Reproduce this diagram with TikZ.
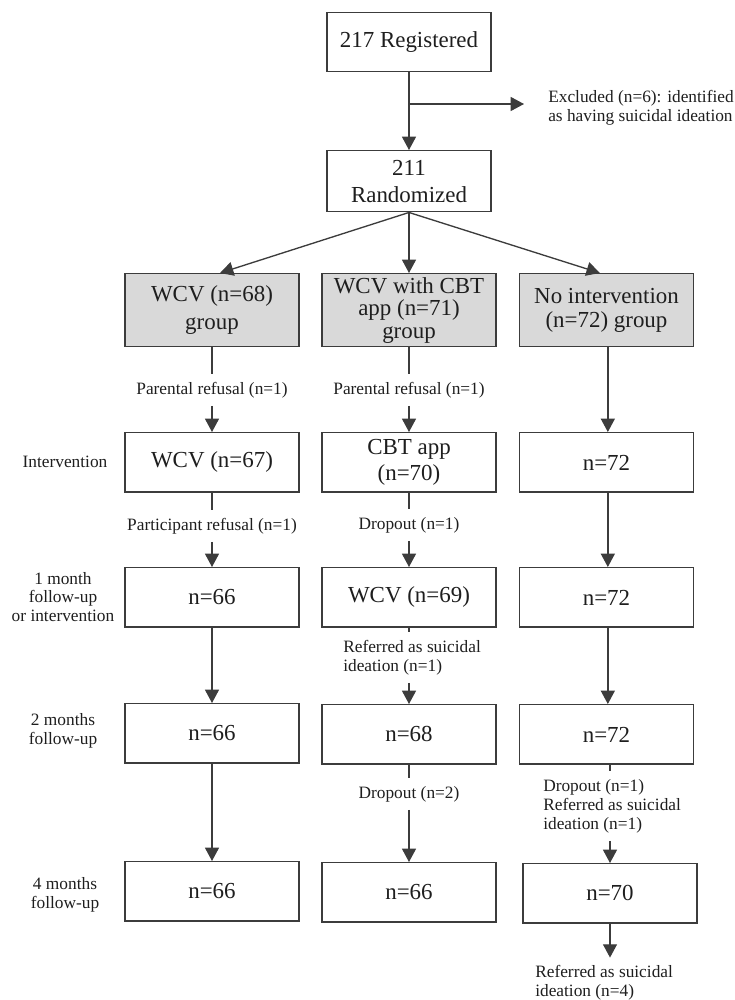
\documentclass[tikz,border=0pt]{standalone}
\usepackage{fontspec}
\setmainfont{Liberation Serif}
\usetikzlibrary{arrows.meta}
\definecolor{boxgray}{HTML}{D9D9D9}
\definecolor{edge}{HTML}{3C3C3C}
\definecolor{ink}{HTML}{1E1E1E}
\begin{document}
\begin{tikzpicture}[x=0.75pt,y=-0.75pt,
  box/.style={draw=edge, line width=1.1pt, fill=white, minimum width=130.5pt,
    minimum height=44.5pt, align=center, inner sep=2pt, anchor=north, text=ink,
    font=\fontsize{17.2}{19}\selectfont},
  topbox/.style={box, minimum width=123pt, minimum height=44.25pt},
  gbox/.style={box, fill=boxgray, minimum height=54.75pt},
  lbl/.style={font=\fontsize{13}{14.2}\selectfont, align=center, inner xsep=0pt,
    inner ysep=0pt, outer ysep=6pt, text=ink},
  lbll/.style={lbl, align=left, anchor=west},
  ln/.style={line width=1pt, draw=edge},
  arr/.style={ln, -{Triangle[length=10pt,width=10.5pt]}}
]
\useasboundingbox (0,0) rectangle (735,1000);

% top
\node[topbox] (reg) at (409,12) {217 Registered};
\node[topbox, minimum height=45.75pt, font=\fontsize{17.2}{20}\selectfont] (ran) at (409,150) {211\\Randomized};
\coordinate (j) at (409,104);
\node[lbll, outer ysep=0pt] (excl) at (548,108) {Excluded (n=6): identified\\as having suicidal ideation};
\draw[arr] (reg.south) -- (ran.north);
\draw[arr, shorten >=18pt] (j) -- (j -| excl.west);

% groups
\node[gbox, font=\fontsize{17.2}{21}\selectfont] (gl) at (212,273) {WCV (n=68)\\group};
\node[gbox, font=\fontsize{17.2}{17}\selectfont] (gm) at (409,273) {WCV with CBT\\app (n=71)\\group};
\node[gbox, font=\fontsize{17.2}{18}\selectfont] (gr) at (606.5,273) {No intervention\\(n=72) group};
\draw[arr] (ran.south) -- ([xshift=6pt]gl.north);
\draw[arr] (ran.south) -- (gm.north);
\draw[arr] (ran.south) -- ([xshift=-5pt]gr.north);

% rows
\node[box] (l1) at (212,432) {WCV (n=67)};
\node[box] (m1) at (409,432) {CBT app\\(n=70)};
\node[box] (r1) at (606.5,432) {n=72};
\node[box] (l2) at (212,567) {n=66};
\node[box] (m2) at (409,567) {WCV (n=69)};
\node[box] (r2) at (606.5,567) {n=72};
\node[box] (l3) at (212,703) {n=66};
\node[box] (m3) at (409,704) {n=68};
\node[box] (r3) at (606.5,704) {n=72};
\node[box] (l4) at (212,861) {n=66};
\node[box] (m4) at (409,862) {n=66};
\node[box] (r4) at (610,863) {n=70};

% stage labels
\node[lbl] (s1) at (65,462) {Intervention};
\node[lbl] (s2) at (63,597) {1 month\\follow-up\\or intervention};
\node[lbl] (s3) at (63,731) {2 months\\follow-up};
\node[lbl] (s4) at (65,895) {4 months\\follow-up};

% left column
\node[lbl] (pl1) at (212,390) {Parental refusal (n=1)};
\draw[ln] (gl.south) -- (pl1.north);
\draw[arr] (pl1.south) -- (l1.north);
\node[lbl] (pr) at (212,526) {Participant refusal (n=1)};
\draw[ln] (l1.south) -- (pr.north);
\draw[arr] (pr.south) -- (l2.north);
\draw[arr] (l2.south) -- (l3.north);
\draw[arr] (l3.south) -- (l4.north);

% middle column
\node[lbl] (pl2) at (409,390) {Parental refusal (n=1)};
\draw[ln] (gm.south) -- (pl2.north);
\draw[arr] (pl2.south) -- (m1.north);
\node[lbl] (do1) at (409,525) {Dropout (n=1)};
\draw[ln] (m1.south) -- (do1.north);
\draw[arr] (do1.south) -- (m2.north);
\node[lbll] (rs1) at (343,657.5) {Referred as suicidal\\ideation (n=1)};
\draw[ln] (m2.south) -- (m2.south |- rs1.north);
\draw[arr] (m2.south |- rs1.south) -- (m3.north);
\node[lbl] (do2) at (409,794) {Dropout (n=2)};
\draw[ln] (m3.south) -- (do2.north);
\draw[arr] (do2.south) -- (m4.north);

% right column
\draw[arr] ([xshift=1pt]gr.south) -- ([xshift=1pt]r1.north);
\draw[arr] ([xshift=1pt]r1.south) -- ([xshift=1pt]r2.north);
\draw[arr] ([xshift=1pt]r2.south) -- ([xshift=1pt]r3.north);
\node[lbll] (rd) at (543,806) {Dropout (n=1)\\Referred as suicidal\\ideation (n=1)};
\draw[ln] (r4.north |- r3.south) -- (r4.north |- rd.north);
\draw[arr] (r4.north |- rd.south) -- (r4.north);
\node[lbll] (rf) at (535,983) {Referred as suicidal\\ideation (n=4)};
\draw[arr] (r4.south) -- (r4.south |- rf.north);
\end{tikzpicture}
\end{document}
